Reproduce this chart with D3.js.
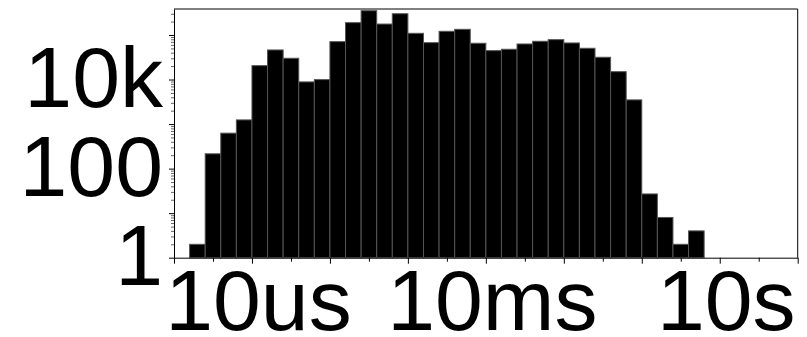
<!DOCTYPE html>
<html><head><meta charset="utf-8">
<script src="https://cdn.jsdelivr.net/npm/d3@7"></script>
<style>
html,body{margin:0;padding:0;background:#fff;}
svg{display:block;}
</style></head>
<body>
<svg id="chart" width="807" height="337"></svg>
<script>
// bin lower edges as log10(seconds), each bin 0.2 decade wide
const binExp = [-5.8,-5.6,-5.4,-5.2,-5.0,-4.8,-4.6,-4.4,-4.2,-4.0,-3.8,-3.6,-3.4,-3.2,-3.0,-2.8,-2.6,-2.4,-2.2,-2.0,-1.8,-1.6,-1.4,-1.2,-1.0,-0.8,-0.6,-0.4,-0.2,0.0,0.2,0.4,0.6];
const counts = [2,215,625,1240,20500,46100,30000,8840,9950,70800,189000,351000,176000,300000,109000,67200,121000,134000,65200,44500,47800,62800,72200,78500,66200,50300,31600,15000,3490,27,8,2,4];
const binWidth = 0.2;
const xTickValues = [1e-5, 1e-2, 1e1];
const xTickLabels = ["10us", "10ms", "10s"];
const yTickValues = [1, 100, 10000];
const yTickLabels = ["1", "100", "10k"];

const W = 807, H = 337;
const m = {left:174, top:9, right:9.3, bottom:79.3};
const svg = d3.select("#chart");

const x = d3.scaleLog().domain([1e-6, 1e2]).range([m.left, W - m.right]);
const y = d3.scaleLog().domain([1, 383000]).range([H - m.bottom, m.top]);

const bins = binExp.map((e, i) => ({x0: Math.pow(10, e), x1: Math.pow(10, e + binWidth), c: counts[i]}));

// bars
svg.append("g").selectAll("rect").data(bins).join("rect")
  .attr("x", d => x(d.x0))
  .attr("width", d => x(d.x1) - x(d.x0))
  .attr("y", d => y(d.c))
  .attr("height", d => y(1) - y(d.c))
  .attr("fill", "#000")
  .attr("stroke", "#555")
  .attr("stroke-width", 1);

// frame
svg.append("line").attr("x1", m.left).attr("x2", W - m.right).attr("y1", m.top).attr("y2", m.top).attr("stroke", "#000");
svg.append("line").attr("x1", W - m.right).attr("x2", W - m.right).attr("y1", m.top).attr("y2", H - m.bottom).attr("stroke", "#000");

// x minor ticks (half decades)
const xMinor = [];
for (let e = -6; e < 2; e++) xMinor.push(Math.pow(10, e + 0.5));
const xMajor = [];
for (let e = -6; e <= 2; e++) xMajor.push(Math.pow(10, e));

const gxMinor = svg.append("g").attr("transform", `translate(0,${H - m.bottom})`)
  .call(d3.axisBottom(x).tickValues(xMinor).tickSize(4).tickFormat(""));
gxMinor.select(".domain").remove();
gxMinor.selectAll("line").attr("stroke", "#000");

const gx = svg.append("g").attr("transform", `translate(0,${H - m.bottom})`)
  .call(d3.axisBottom(x).tickValues(xMajor).tickSize(6).tickSizeOuter(0)
    .tickFormat(d => { const k = xTickValues.findIndex(v => Math.abs(Math.log10(v) - Math.log10(d)) < 1e-6); return k >= 0 ? xTickLabels[k] : ""; }));
gx.select(".domain").attr("stroke", "#000");
gx.selectAll("text").attr("font-family", "Liberation Sans, Arial, sans-serif")
  .attr("font-size", 86).attr("fill", "#000").attr("dy", null).attr("y", 72).attr("dx", 6);

// y minor ticks
const yMinor = [];
for (let e = 0; e < 6; e++) for (let k = 2; k <= 9; k++) { const v = k * Math.pow(10, e); if (v <= 383000) yMinor.push(v); }
const yMajor = [1, 10, 100, 1000, 10000, 100000];

const gyMinor = svg.append("g").attr("transform", `translate(${m.left},0)`)
  .call(d3.axisLeft(y).tickValues(yMinor).tickSize(3).tickFormat(""));
gyMinor.select(".domain").remove();
gyMinor.selectAll("line").attr("stroke", "#666");

const gy = svg.append("g").attr("transform", `translate(${m.left},0)`)
  .call(d3.axisLeft(y).tickValues(yMajor).tickSize(5).tickSizeOuter(0)
    .tickFormat(d => { const k = yTickValues.indexOf(d); return k >= 0 ? yTickLabels[k] : ""; }));
gy.select(".domain").attr("stroke", "#000");
gy.selectAll("text").attr("font-family", "Liberation Sans, Arial, sans-serif")
  .attr("font-size", 86).attr("fill", "#000").attr("dy", null).attr("x", -11).attr("y", 27);
</script>
</body></html>
